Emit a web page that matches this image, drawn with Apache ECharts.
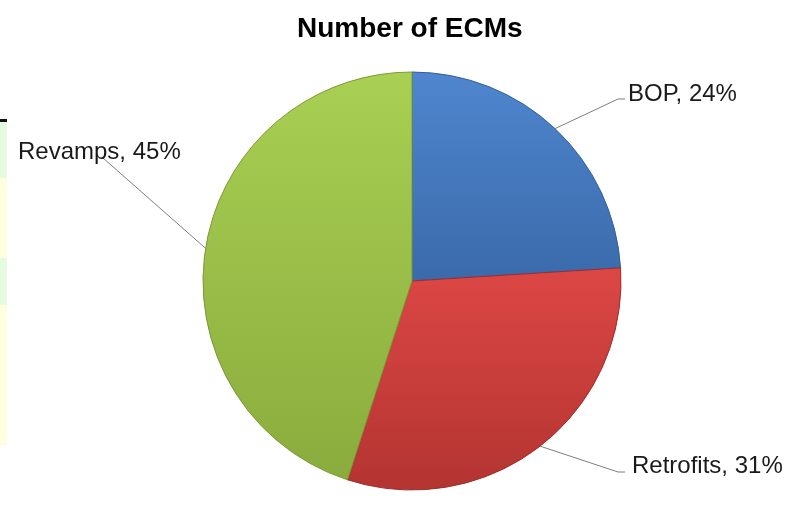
<!DOCTYPE html>
<html>
<head>
<meta charset="utf-8">
<script src="https://cdn.jsdelivr.net/npm/echarts@6/dist/echarts.min.js"></script>
<style>
html,body{margin:0;padding:0;background:#fff;}
#chart{width:807px;height:505px;}
</style>
</head>
<body>
<div id="chart"></div>
<script>
const categories = ['BOP', 'Retrofits', 'Revamps'];
const values = [24, 31, 45];
const titleText = 'Number of ECMs';

const topColors = ['#4f86cf', '#dc4744', '#a9cf53'];
const bottomColors = ['#3a6aaa', '#b33431', '#8aac3d'];
const edgeColors = ['#335f9a', '#9e2d2a', '#7a9a35'];

// label anchor (text position) and bend points for each slice
const labelPos = [
  {x: 628, y: 94, bend: [[618, 99], [625, 99]]},
  {x: 632, y: 466, bend: [[618, 472], [625, 472]]},
  {x: 18, y: 152, bend: [[103, 158]]}
];

const chart = echarts.init(document.getElementById('chart'), null, {renderer: 'canvas'});

const data = categories.map((c, i) => ({
  name: c,
  value: values[i],
  itemStyle: {
    color: new echarts.graphic.LinearGradient(0, 0, 0, 1, [
      {offset: 0, color: topColors[i]},
      {offset: 1, color: bottomColors[i]}
    ]),
    borderColor: edgeColors[i],
    borderWidth: 1
  }
}));

chart.setOption({
  animation: false,
  backgroundColor: '#ffffff',
  title: {
    text: titleText,
    left: 292,
    top: 10,
    textStyle: {
      fontFamily: 'Liberation Sans, Arial, sans-serif',
      fontWeight: 'bold',
      fontSize: 28,
      color: '#000'
    }
  },
  graphic: [
    {type: 'rect', shape: {x: 0, y: 122, width: 7, height: 56}, style: {fill: '#e5fbdf'}},
    {type: 'rect', shape: {x: 0, y: 178, width: 7, height: 80}, style: {fill: '#ffffdf'}},
    {type: 'rect', shape: {x: 0, y: 258, width: 7, height: 47}, style: {fill: '#e5fbdf'}},
    {type: 'rect', shape: {x: 0, y: 305, width: 7, height: 140}, style: {fill: '#ffffdf'}},
    {type: 'rect', shape: {x: 0, y: 119, width: 7, height: 3}, style: {fill: '#111'}}
  ],
  series: [{
    type: 'pie',
    center: [412, 281],
    radius: 209,
    startAngle: 90,
    clockwise: true,
    data: data,
    label: {
      show: true,
      formatter: '{b}, {d}%',
      fontFamily: 'Liberation Sans, Arial, sans-serif',
      fontSize: 24,
      color: '#1a1a1a',
      overflow: 'none',
      width: 300
    },
    labelLine: {
      show: true,
      lineStyle: {color: '#7f7f7f', width: 1}
    },
    labelLayout: function (params) {
      const p = labelPos[params.dataIndex];
      const start = params.labelLinePoints ? params.labelLinePoints[0] : null;
      const pts = start ? [start].concat(p.bend) : null;
      const res = {x: p.x, y: p.y, align: 'left', verticalAlign: 'middle'};
      if (pts) res.labelLinePoints = pts;
      return res;
    },
    emphasis: {disabled: true}
  }]
});
</script>
</body>
</html>
